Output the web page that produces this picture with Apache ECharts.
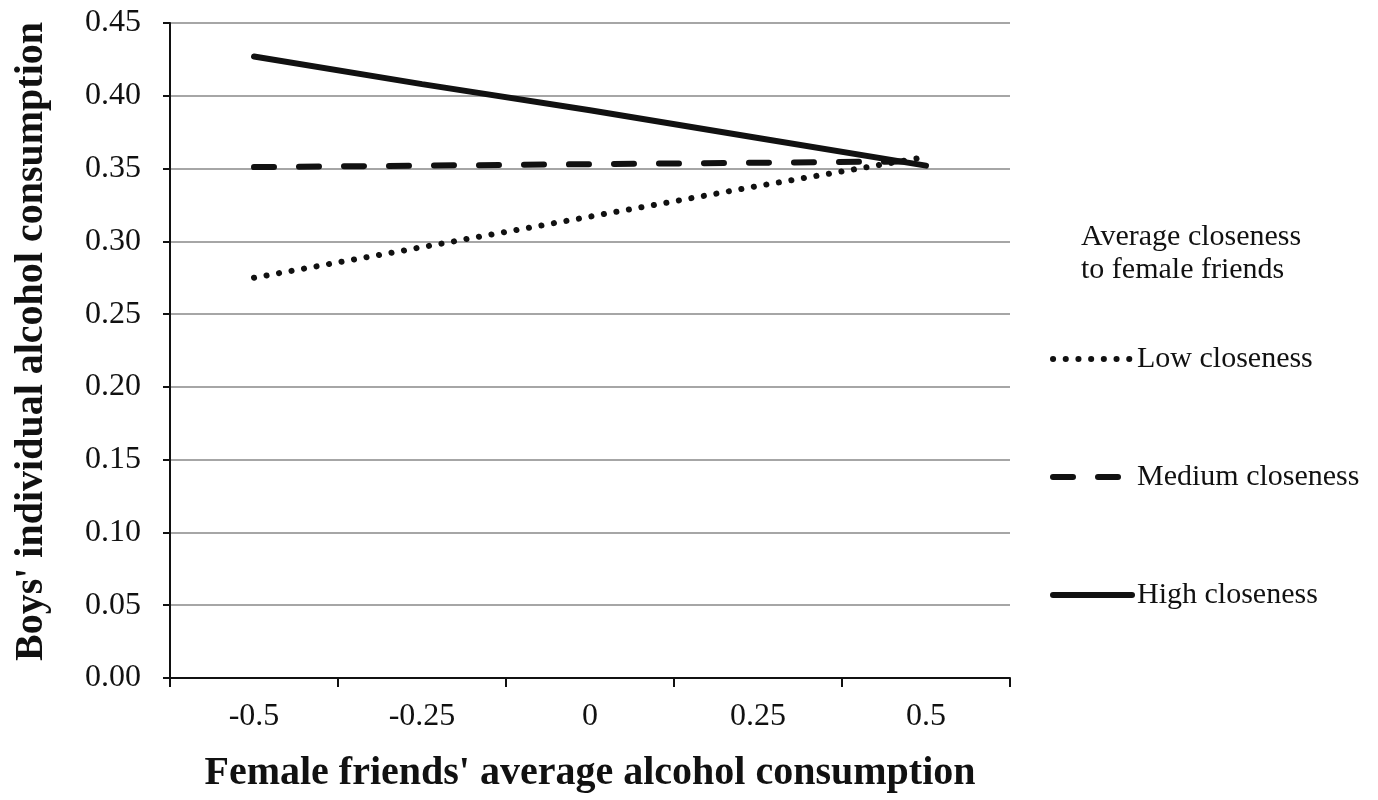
<!DOCTYPE html>
<html>
<head>
<meta charset="utf-8">
<script src="https://cdn.jsdelivr.net/npm/echarts@6/dist/echarts.min.js"></script>
<style>
  html, body { margin: 0; padding: 0; background: #fff; }
  #main { width: 1378px; height: 800px; }
</style>
</head>
<body>
<div id="main"></div>
<script>
// x categories (female friends' average alcohol consumption)
var categories = ['-0.5', '-0.25', '0', '0.25', '0.5'];
// values
var lowCloseness = [0.275, 0.296, 0.317, 0.338, 0.358];
var mediumCloseness = [0.351, 0.352, 0.353, 0.354, 0.355];
var highCloseness = [0.427, 0.408, 0.390, 0.371, 0.352];
var seriesNames = ['Low closeness', 'Medium closeness', 'High closeness'];

var serif = "'Liberation Serif', 'Times New Roman', serif";

var myChart = echarts.init(document.getElementById('main'));

var option = {
  backgroundColor: '#fff',
  animation: false,
  grid: { left: 170, right: 368, top: 23, bottom: 122 },
  graphic: [{
    type: 'text',
    left: 1081,
    top: 221,
    style: {
      text: 'Average closeness\nto female friends',
      font: '30px ' + serif,
      lineHeight: 33,
      fill: '#111'
    }
  }],
  legend: {
    orient: 'vertical',
    left: 1050,
    top: 344,
    padding: 0,
    itemWidth: 79,
    itemHeight: 16,
    itemGap: 88,
    itemStyle: { opacity: 0 },
    lineStyle: { width: 6 },
    textStyle: { fontFamily: serif, fontSize: 30, color: '#111' },
    data: seriesNames
  },
  xAxis: {
    type: 'category',
    data: categories,
    boundaryGap: true,
    name: "Female friends' average alcohol consumption",
    nameLocation: 'middle',
    nameGap: 76,
    nameTextStyle: { fontFamily: serif, fontSize: 40, fontWeight: 'bold', color: '#111' },
    axisLine: { lineStyle: { color: '#111', width: 2 } },
    axisTick: { show: true, length: 9, lineStyle: { color: '#111', width: 2 } },
    axisLabel: { fontFamily: serif, fontSize: 32, color: '#111', margin: 23 },
    splitLine: { show: false }
  },
  yAxis: {
    type: 'value',
    min: 0,
    max: 0.45,
    interval: 0.05,
    name: "Boys' individual alcohol consumption",
    nameLocation: 'middle',
    nameGap: 118,
    nameTextStyle: { fontFamily: serif, fontSize: 40, fontWeight: 'bold', color: '#111', padding: [0, 0, 0, 18] },
    axisLine: { show: true, lineStyle: { color: '#111', width: 2 } },
    axisTick: { show: true, length: 7, lineStyle: { color: '#111', width: 2 } },
    axisLabel: {
      fontFamily: serif, fontSize: 32, color: '#111', margin: 29,
      formatter: function (v) { return v.toFixed(2); }
    },
    splitLine: { show: true, lineStyle: { color: '#a6a6a6', width: 2 } }
  },
  series: [
    {
      name: seriesNames[0],
      type: 'line',
      data: lowCloseness,
      showSymbol: false,
      symbol: 'none',
      color: '#111',
      lineStyle: { color: '#111', width: 6, type: [0.1, 12.6], cap: 'round' }
    },
    {
      name: seriesNames[1],
      type: 'line',
      data: mediumCloseness,
      showSymbol: false,
      symbol: 'none',
      color: '#111',
      lineStyle: { color: '#111', width: 6, type: [20, 25], cap: 'round' }
    },
    {
      name: seriesNames[2],
      type: 'line',
      data: highCloseness,
      showSymbol: false,
      symbol: 'none',
      color: '#111',
      lineStyle: { color: '#111', width: 6, cap: 'round' }
    }
  ]
};
myChart.setOption(option);
</script>
</body>
</html>
